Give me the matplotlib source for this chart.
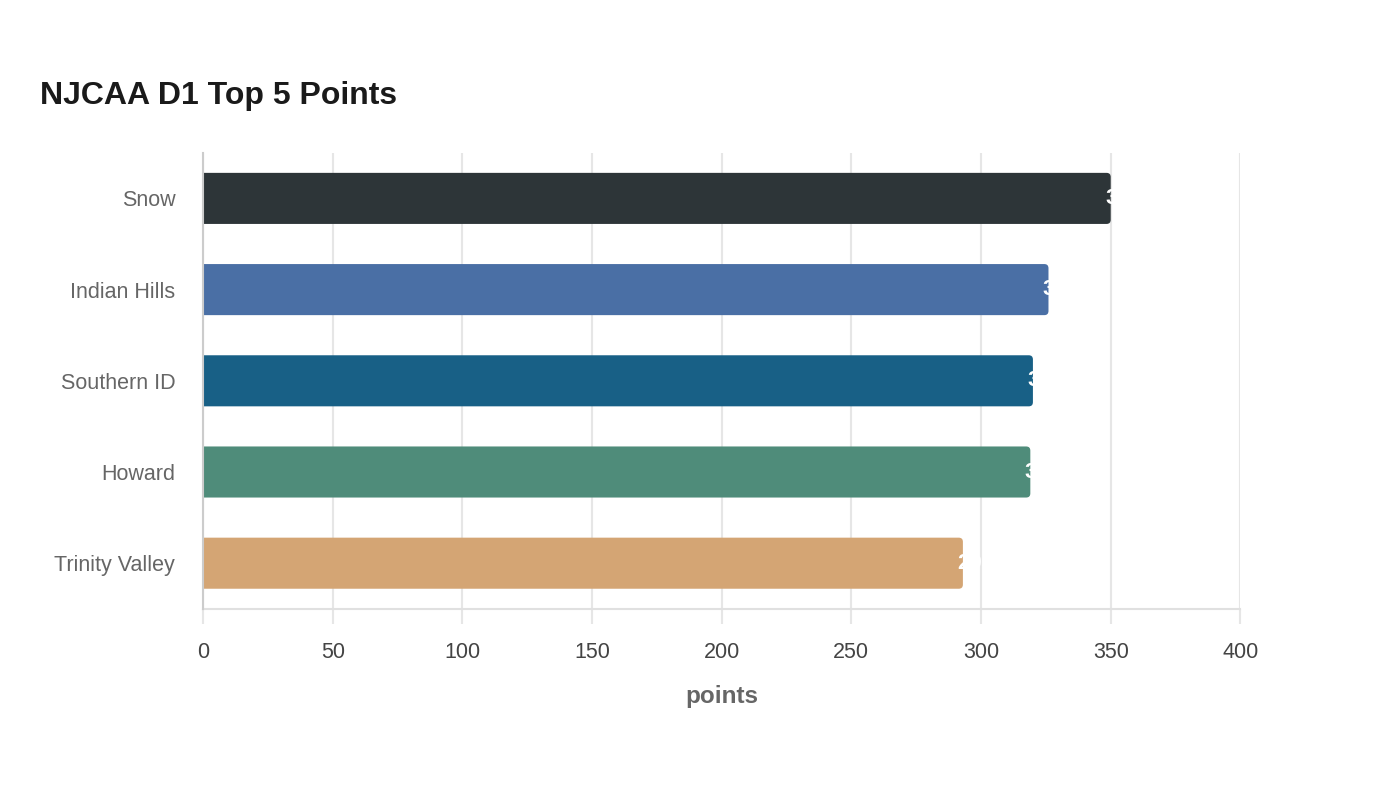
import matplotlib.pyplot as plt
from matplotlib.patches import FancyBboxPatch

plt.rcParams['font.family'] = ['Liberation Sans', 'DejaVu Sans']

teams = ['Snow', 'Indian Hills', 'Southern ID', 'Howard', 'Trinity Valley']
points = [350, 326, 320, 319, 293]
colors = ['#2d3538', '#4a6fa5', '#186086', '#4f8c7a', '#d4a574']

fig = plt.figure(figsize=(14, 8), dpi=100)
ax = fig.add_axes([0.145, 0.239, 0.741, 0.57])

ypos = list(range(len(teams)))
bars = ax.barh(ypos, points, height=0.56, color=colors, zorder=2)

# swap the plain bars for slightly rounded ones (left end hidden past x=0)
for b in bars:
    b.set_visible(False)
    r = FancyBboxPatch((-3, b.get_y()), b.get_width() + 3, b.get_height(),
                       boxstyle='round,pad=0,rounding_size=1.6',
                       mutation_aspect=0.0285, facecolor=b.get_facecolor(),
                       edgecolor='none', zorder=2)
    ax.add_patch(r)

# white value labels sitting at the bar ends
for y, v in zip(ypos, points):
    ax.annotate(str(v), (v, y), xytext=(-4, 0), textcoords='offset points',
                ha='left', va='center', color='white', fontsize=16,
                fontweight='bold', zorder=3)

ax.set_xlim(0, 400)
ax.set_ylim(len(teams) - 0.5, -0.5)
ax.set_xticks(range(0, 401, 50))
ax.set_yticks(ypos)
ax.set_yticklabels(teams)

ax.grid(axis='x', color='#e6e6e6', linewidth=1.5, zorder=0)
for s in ['top', 'right']:
    ax.spines[s].set_visible(False)
ax.spines['left'].set_color('#cccccc')
ax.spines['bottom'].set_color('#e0e0e0')
ax.spines['left'].set_linewidth(1.5)
ax.spines['bottom'].set_linewidth(1.5)
ax.spines['left'].set_zorder(3)

ax.tick_params(axis='x', length=11, color='#e6e6e6', width=1.5,
               labelsize=15.5, labelcolor='#444444', pad=13)
ax.tick_params(axis='y', length=0, labelsize=15.5, labelcolor='#666666', pad=20)

ax.set_xlabel('points', fontsize=17.5, fontweight='bold', color='#666666', labelpad=16)

fig.text(40 / 1400, 1 - 96 / 800, 'NJCAA D1 Top 5 Points', fontsize=23,
         fontweight='bold', color='#1a1a1a', va='center', ha='left')

fig.savefig('out.png', dpi=100, facecolor='white')
